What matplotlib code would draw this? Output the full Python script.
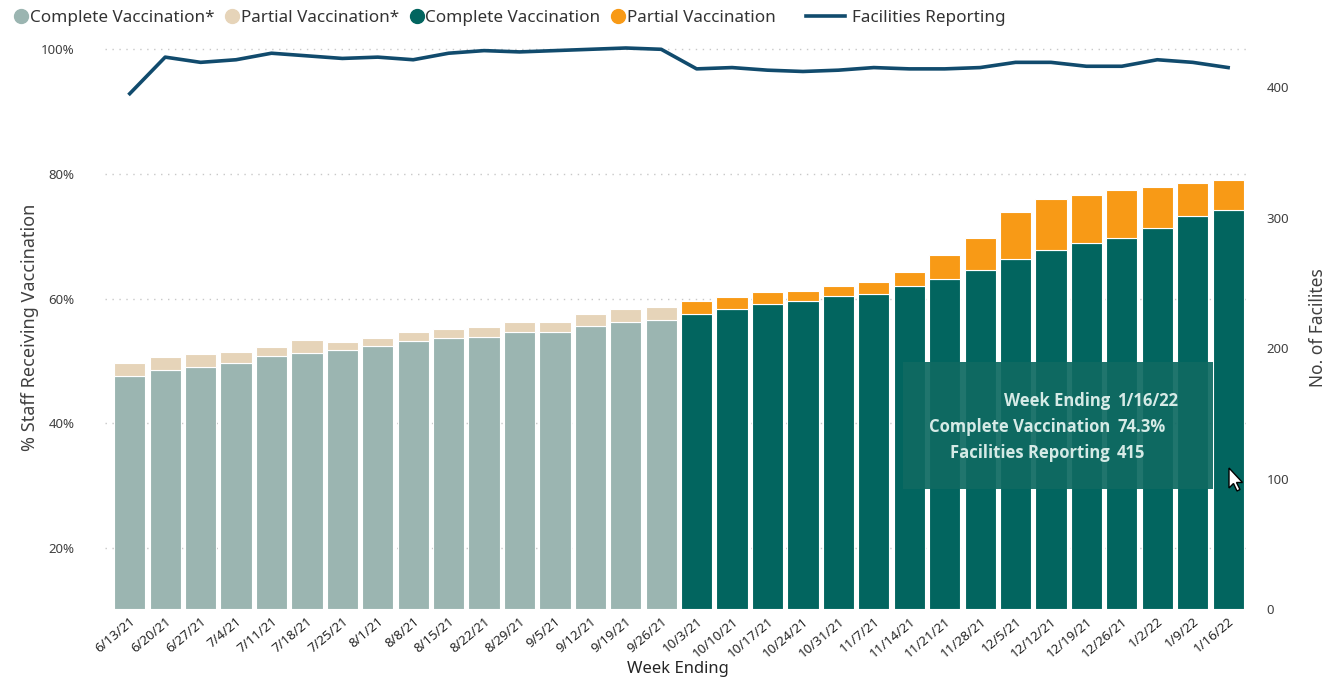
import matplotlib
matplotlib.use("Agg")
from matplotlib import pyplot as plt
from matplotlib.patches import FancyBboxPatch, Polygon
from matplotlib.lines import Line2D
import numpy as np

plt.rcParams['font.family'] = ['Noto Sans', 'DejaVu Sans']

# week labels
weeks = ['6/13/21', '6/20/21', '6/27/21', '7/4/21', '7/11/21', '7/18/21', '7/25/21', '8/1/21',
         '8/8/21', '8/15/21', '8/22/21', '8/29/21', '9/5/21', '9/12/21', '9/19/21', '9/26/21',
         '10/3/21', '10/10/21', '10/17/21', '10/24/21', '10/31/21', '11/7/21', '11/14/21', '11/21/21',
         '11/28/21', '12/5/21', '12/12/21', '12/19/21', '12/26/21', '1/2/22', '1/9/22', '1/16/22']
# first 16 weeks belong to the "*" series
n_star = 16

# % complete vaccination
complete = [47.6, 48.6, 49.1, 49.7, 50.8, 51.3, 51.7, 52.4, 53.2, 53.7, 53.8, 54.6, 54.6, 55.6, 56.3, 56.6,
            57.6, 58.3, 59.2, 59.6, 60.4, 60.8, 62.1, 63.2, 64.6, 66.4, 67.8, 68.9, 69.8, 71.3, 73.2, 74.3]
# complete + partial (top of each stacked bar)
total = [49.7, 50.6, 51.1, 51.5, 52.3, 53.3, 53.0, 53.7, 54.6, 55.1, 55.5, 56.3, 56.3, 57.5, 58.3, 58.6,
         59.6, 60.2, 61.0, 61.3, 62.0, 62.6, 64.2, 67.0, 69.8, 73.9, 76.0, 76.7, 77.4, 77.9, 78.6, 79.0]
# number of facilities reporting
facilities = [395, 423, 419, 421, 426, 424, 422, 423, 421, 426, 428, 427, 428, 429, 430, 429,
              414, 415, 413, 412, 413, 415, 414, 414, 415, 419, 419, 416, 416, 421, 419, 415]

left_ticks = [20, 40, 60, 80, 100]
right_ticks = [0, 100, 200, 300, 400]

c_grey = '#9BB5B1'
c_beige = '#E6D4B9'
c_teal = '#02655F'
c_orange = '#F89A16'
c_line = '#114B6D'
txt = '#404040'

complete = np.array(complete)
partial = np.array(total) - complete
x = np.arange(len(weeks))
col_c = [c_grey if i < n_star else c_teal for i in x]
col_p = [c_beige if i < n_star else c_orange for i in x]

fig = plt.figure(figsize=(13.37, 6.81), dpi=100)
ax = fig.add_axes([0.0785, 0.1057, 0.8565, 0.8265])
ax2 = ax.twinx()

bottom_val = 10.22
ax.bar(x, complete - bottom_val, bottom=bottom_val, width=0.88, color=col_c, edgecolor='white', linewidth=0.8)
ax.bar(x, partial, bottom=complete, width=0.88, color=col_p, edgecolor='white', linewidth=0.8)
ax.set_ylim(bottom_val, 100.5)
ax.set_xlim(-0.7, 31.62)
ax.set_yticks(left_ticks)
ax.set_yticklabels([f'{t}%' for t in left_ticks])
ax.grid(axis='y', color='#C8C8C8', linestyle=(0, (1, 4)), linewidth=1)
ax.set_axisbelow(True)

ax2.plot(x, facilities, color=c_line, linewidth=2.6, solid_joinstyle='round')
ax2.set_ylim(0, 431.4)
ax2.set_yticks(right_ticks)

for a in (ax, ax2):
    for s in a.spines.values():
        s.set_visible(False)
    a.tick_params(length=0, colors=txt, labelsize=9.5)

ax.set_xticks(x)
ax.set_xticklabels(weeks, rotation=40, ha='right', rotation_mode='anchor', fontsize=9.5, color='#252525')
ax.tick_params(axis='x', pad=4)
ax.tick_params(axis='y', pad=22)
ax2.tick_params(axis='y', pad=12)

ax.set_xlabel('Week Ending', fontsize=12, color='#252525', labelpad=1)
ax.set_ylabel('% Staff Receiving Vaccination', fontsize=13, color=txt, labelpad=1)
ax2.set_ylabel('No. of Facilites', fontsize=12.5, color=txt, labelpad=14)

# legend: four circle entries, then the line entry
dots = [Line2D([], [], marker='o', linestyle='', color=c, markersize=10)
        for c in (c_grey, c_beige, c_teal, c_orange)]
dot_labels = ['Complete Vaccination*', 'Partial Vaccination*', 'Complete Vaccination', 'Partial Vaccination']
leg = fig.legend(dots, dot_labels, loc='upper left', bbox_to_anchor=(-0.002, 1.008), ncol=4, frameon=False,
                 fontsize=12.3, handletextpad=0.0, columnspacing=0.55, handlelength=1.0, labelcolor='#333333')
leg2 = fig.legend([Line2D([], [], color=c_line, linewidth=2.6)], ['Facilities Reporting'],
                  loc='upper left', bbox_to_anchor=(0.591, 1.008), frameon=False, fontsize=12.3,
                  handletextpad=0.4, handlelength=2.3, labelcolor='#333333')

# hover tooltip
box = FancyBboxPatch((0.6755, 0.282), 0.2315, 0.186, boxstyle='square,pad=0', transform=fig.transFigure,
                     facecolor='#0F6A62', edgecolor='none', alpha=0.93, zorder=10)
fig.patches.append(box)
rows = [('Week Ending', weeks[-1]), ('Complete Vaccination', f'{complete[-1]:.1f}%'),
        ('Facilities Reporting', str(facilities[-1]))]
for k, (lab, val) in enumerate(rows):
    yy = 1 - (401 + 26 * k) / 681
    fig.text(1110 / 1337, yy, lab, ha='right', va='center', fontsize=12, fontweight='bold',
             family=['Open Sans', 'DejaVu Sans'], color='#D5EAE6', zorder=11)
    fig.text(1117 / 1337, yy, val, ha='left', va='center', fontsize=12, fontweight='bold',
             family=['Open Sans', 'DejaVu Sans'], color='#D5EAE6', zorder=11)

# mouse cursor
cx, cy = 1229, 468
pts = [(0, 0), (0, 20), (4.5, 15.5), (8, 23), (11, 21.5), (7.5, 14.5), (13.5, 14.5)]
cur = Polygon([((cx + px) / 1337, 1 - (cy + py) / 681) for px, py in pts], closed=True,
              transform=fig.transFigure, facecolor='white', edgecolor='black', linewidth=1, zorder=12)
fig.patches.append(cur)

fig.savefig('out.png', dpi=100, facecolor='white')
